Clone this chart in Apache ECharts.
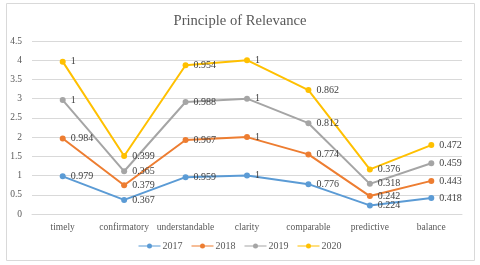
<!DOCTYPE html>
<html><head><meta charset="utf-8">
<script src="https://cdn.jsdelivr.net/npm/echarts@6/dist/echarts.min.js"></script>
<style>html,body{margin:0;padding:0;background:#fff}#c{width:480px;height:265px}</style>
</head><body><div id="c"></div>
<script>
const categories = ['timely','confirmatory','understandable','clarity','comparable','predictive','balance'];
const s2017 = [0.979,0.367,0.959,1,0.776,0.224,0.418];
const s2018 = [0.984,0.379,0.967,1,0.774,0.242,0.443];
const s2019 = [1,0.365,0.988,1,0.812,0.318,0.459];
const s2020 = [1,0.399,0.954,1,0.862,0.376,0.472];
const seriesNames = ['2017','2018','2019','2020'];
const colors = ['#5B9BD5','#ED7D31','#A5A5A5','#FFC000'];
const font = '"Liberation Serif","Times New Roman",serif';
const chart = echarts.init(document.getElementById('c'));
const data = [s2017,s2018,s2019,s2020];
chart.setOption({
  animation:false,
  textStyle:{fontFamily:font},
  graphic:[{type:'rect',shape:{x:6.5,y:3.5,width:468,height:257},style:{fill:'none',stroke:'#D9D9D9',lineWidth:1},silent:true}],
  title:{text:'Principle of Relevance',left:'center',top:9,textStyle:{fontFamily:font,fontSize:14.6,fontWeight:'normal',color:'#595959'}},
  legend:{bottom:9,left:'center',itemWidth:22,itemHeight:6,itemGap:9,
    icon:'path://M0,2.4L22,2.4L22,3.6L0,3.6Z M11,0.5A2.5,2.5 0 1,1 11,5.5A2.5,2.5 0 1,1 11,0.5Z',
    textStyle:{fontFamily:font,fontSize:10,color:'#595959',padding:[0,0,0,-3]},data:seriesNames},
  grid:{left:32,right:18,top:41,bottom:51},
  xAxis:{type:'category',data:categories,boundaryGap:true,
    axisLine:{show:true,lineStyle:{color:'#D9D9D9'}},axisTick:{show:false},
    axisLabel:{interval:0,fontFamily:font,fontSize:9.5,color:'#595959',margin:8}},
  yAxis:{type:'value',min:0,max:4.5,interval:0.5,
    axisLine:{show:false},axisTick:{show:false},
    splitLine:{lineStyle:{color:'#D9D9D9'}},
    axisLabel:{fontFamily:font,fontSize:9.5,color:'#595959',margin:10}},
  series:data.map((d,i)=>({
    name:seriesNames[i],type:'line',stack:'total',data:d,
    symbol:'circle',symbolSize:6,
    lineStyle:{width:2,color:colors[i]},itemStyle:{color:colors[i]},
    label:{show:true,position:'right',distance:5,fontFamily:font,fontSize:10,color:'#404040'}
  }))
});
</script></body></html>
